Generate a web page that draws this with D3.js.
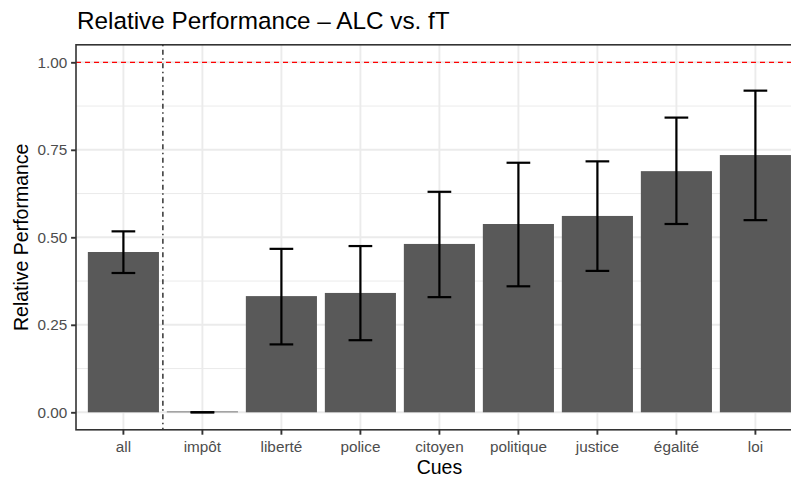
<!DOCTYPE html>
<html>
<head>
<meta charset="utf-8">
<script src="https://cdn.jsdelivr.net/npm/d3@7"></script>
<style>
  html, body { margin: 0; padding: 0; background: #fff; overflow: hidden; }
  text { font-family: "Liberation Sans", Arial, Helvetica, sans-serif; }
</style>
</head>
<body>
<svg id="chart" width="791" height="479"></svg>
<script>
// Cue categories along the x axis
const cues = ["all", "impôt", "liberté", "police", "citoyen", "politique", "justice", "égalité", "loi"];
// Mean relative performance per cue
const performance = [0.458, 0.000, 0.332, 0.341, 0.481, 0.538, 0.561, 0.689, 0.735];
// Error bar bounds per cue
const lowerBound = [0.398, 0.000, 0.194, 0.206, 0.329, 0.360, 0.404, 0.538, 0.549];
const upperBound = [0.517, 0.000, 0.467, 0.475, 0.630, 0.713, 0.717, 0.842, 0.919];
// Y axis ticks
const yTicks = [0, 0.25, 0.5, 0.75, 1.0];
const yMinorTicks = [0.125, 0.375, 0.625, 0.875];
// Reference level
const referenceLevel = 1.0;

const svg = d3.select("#chart");

const panel = { left: 76, top: 44.8, bottom: 429.8 };
const unit = 79;
panel.right = panel.left + 9.2 * unit;

const x = d3.scaleBand()
  .domain(cues)
  .range([panel.left, panel.right])
  .paddingInner(0.1)
  .paddingOuter(0.15);

const y = d3.scaleLinear()
  .domain([-0.05, 1.05])
  .range([panel.bottom, panel.top]);

const gridCol = "#EBEBEB";
const g = svg.append("g");

// panel background
g.append("rect")
  .attr("x", panel.left).attr("y", panel.top)
  .attr("width", panel.right - panel.left).attr("height", panel.bottom - panel.top)
  .attr("fill", "#fff");

// minor horizontal grid
g.selectAll("line.minor").data(yMinorTicks).join("line")
  .attr("x1", panel.left).attr("x2", panel.right)
  .attr("y1", d => y(d)).attr("y2", d => y(d))
  .attr("stroke", gridCol).attr("stroke-width", 1);

// major horizontal grid
g.selectAll("line.majorY").data(yTicks).join("line")
  .attr("x1", panel.left).attr("x2", panel.right)
  .attr("y1", d => y(d)).attr("y2", d => y(d))
  .attr("stroke", gridCol).attr("stroke-width", 1.9);

// major vertical grid
g.selectAll("line.majorX").data(cues).join("line")
  .attr("x1", d => x(d) + x.bandwidth() / 2).attr("x2", d => x(d) + x.bandwidth() / 2)
  .attr("y1", panel.top).attr("y2", panel.bottom)
  .attr("stroke", gridCol).attr("stroke-width", 1.9);

const rows = cues.map((c, i) => ({ cue: c, v: performance[i], lo: lowerBound[i], hi: upperBound[i] }));

// bars (a zero-valued bar still shows as a hairline)
g.selectAll("rect.bar").data(rows).join("rect")
  .attr("x", d => x(d.cue))
  .attr("width", x.bandwidth())
  .attr("y", d => Math.min(y(d.v), y(0) - 0.8))
  .attr("height", d => Math.max(y(0) - y(d.v), 0.8))
  .attr("fill", "#595959");

// error bars
const capHalf = 0.15 * x.step();
const eb = g.selectAll("g.err").data(rows).join("g")
  .attr("transform", d => `translate(${x(d.cue) + x.bandwidth() / 2},0)`);
eb.append("line")
  .attr("x1", 0).attr("x2", 0)
  .attr("y1", d => y(d.hi)).attr("y2", d => y(d.lo))
  .attr("stroke", "#000").attr("stroke-width", 2.2);
eb.append("line")
  .attr("x1", -capHalf).attr("x2", capHalf)
  .attr("y1", d => y(d.hi)).attr("y2", d => y(d.hi))
  .attr("stroke", "#000").attr("stroke-width", 2.2);
eb.append("line")
  .attr("x1", -capHalf).attr("x2", capHalf)
  .attr("y1", d => y(d.lo)).attr("y2", d => y(d.lo))
  .attr("stroke", "#000").attr("stroke-width", 2.2);

// reference line at 1.0
g.append("line")
  .attr("x1", panel.left).attr("x2", panel.right)
  .attr("y1", y(referenceLevel)).attr("y2", y(referenceLevel))
  .attr("stroke", "#FF0000").attr("stroke-width", 1.3)
  .attr("stroke-dasharray", "5,4");

// separator between the pooled cue and the individual cues
const sepX = (x(cues[0]) + x.bandwidth() + x(cues[1])) / 2;
g.append("line")
  .attr("x1", sepX).attr("x2", sepX)
  .attr("y1", panel.top).attr("y2", panel.bottom)
  .attr("stroke", "#000").attr("stroke-width", 1.2)
  .attr("stroke-dasharray", "1.5,3.5,5,3.5");

// panel border
g.append("rect")
  .attr("x", panel.left).attr("y", panel.top)
  .attr("width", panel.right - panel.left).attr("height", panel.bottom - panel.top)
  .attr("fill", "none").attr("stroke", "#333333").attr("stroke-width", 1.6);

// axes
const tickCol = "#333333", labelCol = "#4D4D4D";
const yAxis = svg.append("g")
  .attr("transform", `translate(${panel.left},0)`)
  .call(d3.axisLeft(y).tickValues(yTicks).tickFormat(d3.format(".2f")).tickSize(4.9).tickPadding(3.9));
yAxis.select(".domain").remove();
yAxis.selectAll(".tick line").attr("stroke", tickCol).attr("stroke-width", 1.9);
yAxis.selectAll(".tick text")
  .attr("fill", labelCol).attr("font-size", "15.3px")
  .attr("font-family", "'Liberation Sans', Arial, sans-serif");

const xAxis = svg.append("g")
  .attr("transform", `translate(0,${panel.bottom})`)
  .call(d3.axisBottom(x).tickSize(4.9).tickPadding(6));
xAxis.select(".domain").remove();
xAxis.selectAll(".tick line").attr("stroke", tickCol).attr("stroke-width", 1.9);
xAxis.selectAll(".tick text")
  .attr("fill", labelCol).attr("font-size", "15.3px")
  .attr("font-family", "'Liberation Sans', Arial, sans-serif");

// axis titles
svg.append("text")
  .attr("x", (panel.left + panel.right) / 2).attr("y", 474)
  .attr("text-anchor", "middle").attr("font-size", "19.5px").attr("fill", "#000")
  .text("Cues");
svg.append("text")
  .attr("transform", `translate(28,${(panel.top + panel.bottom) / 2}) rotate(-90)`)
  .attr("text-anchor", "middle").attr("font-size", "19.5px").attr("fill", "#000")
  .text("Relative Performance");

// title
svg.append("text")
  .attr("x", panel.left + 1).attr("y", 29.3)
  .attr("font-size", "24.3px").attr("fill", "#000")
  .text("Relative Performance – ALC vs. fT");
</script>
</body>
</html>
